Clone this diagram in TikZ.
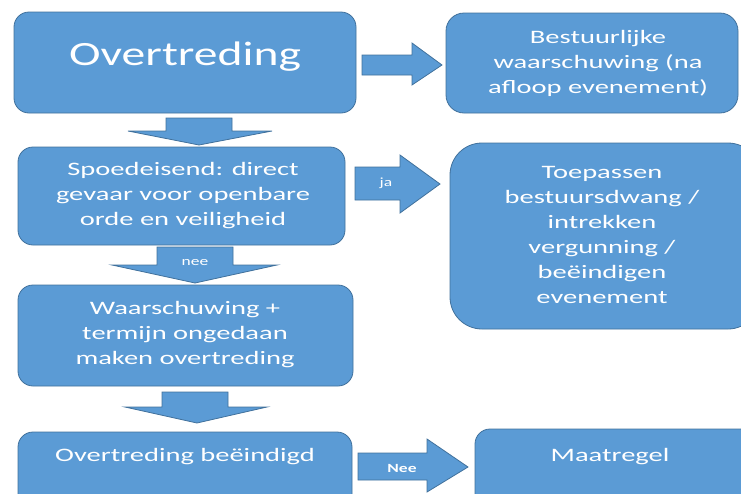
\documentclass[tikz,border=0pt]{standalone}
\usepackage{fontspec}
\setmainfont{Carlito}[FakeStretch=1.4]
\newfontfamily\bodyfont{Carlito}[FakeStretch=1.5]
\definecolor{boxfill}{HTML}{5B9BD5}
\definecolor{boxline}{HTML}{41719C}
\tikzset{
  box/.style={draw=boxline, fill=boxfill, line width=0.8pt, rectangle, inner sep=0pt},
  barrow/.style={draw=boxline, fill=boxfill, line width=0.8pt, line join=miter},
  boxtext/.style={text=white, align=center, inner sep=0pt, font=\bodyfont\fontsize{19}{25}\selectfont},
  arrowtext/.style={text=white, inner sep=0pt, font=\fontsize{12.5}{14}\selectfont},
}
\begin{document}
\begin{tikzpicture}[x=1pt,y=-1pt]
\useasboundingbox (0,0) rectangle (741,493);
\clip (0,0) rectangle (741,493);
% boxes
\node[box, rounded corners=15pt, minimum width=342pt, minimum height=101pt] (b1) at (185,62.5) {};
\node[box, rounded corners=15pt, minimum width=327pt, minimum height=98pt] (b2) at (181.5,196) {};
\node[box, rounded corners=15pt, minimum width=335pt, minimum height=101pt] (b3) at (185.5,335.5) {};
\node[box, rounded corners=15pt, minimum width=334pt, minimum height=90pt] (b4) at (185,477) {};
\node[box, rounded corners=18pt, minimum width=292pt, minimum height=100pt] (r1) at (592,63) {};
\node[box, rounded corners=32pt, minimum width=310pt, minimum height=186pt] (r2) at (605,236) {};
\node[box, rounded corners=15pt, minimum width=285pt, minimum height=90pt] (r3) at (617.5,474) {};
% texts
\node[boxtext, font=\rmfamily\fontsize{34}{40}\selectfont] (t1) at (185,57) {Overtreding};
\node[boxtext] (t2) at (183,196) {Spoedeisend: direct\\gevaar voor openbare\\orde en veiligheid};
\node[boxtext] (t3) at (185,335) {Waarschuwing +\\termijn ongedaan\\maken overtreding};
\node[boxtext] (t4) at (185,457) {Overtreding beëindigd};
\node[boxtext] (tr1) at (598,63) {Bestuurlijke\\waarschuwing (na\\afloop evenement)};
\node[boxtext] (tr2) at (602,234.5) {Toepassen\\bestuursdwang /\\intrekken\\vergunning /\\beëindigen\\evenement};
\node[boxtext] (tr3) at (610,457) {Maatregel};
% block arrows down
\draw[barrow] (166,118) -- (232,118) -- (232,131) -- (272,131) -- (199,145) -- (128,131) -- (166,131) -- cycle;
\draw[barrow] (157,247) -- (233,247) -- (233,265) -- (277,265) -- (195,283) -- (112,265) -- (157,265) -- cycle;
\draw[barrow] (162,392) -- (228,392) -- (228,407) -- (267,407) -- (197,423) -- (125,407) -- (162,407) -- cycle;
% block arrows right
\draw[barrow] (362,55) -- (412,55) -- (412,43) -- (442,65) -- (412,85) -- (412,75) -- (362,75) -- cycle;
\draw[barrow] (355,167) -- (400,167) -- (400,155) -- (440,184) -- (400,213) -- (400,200) -- (355,200) -- cycle;
\draw[barrow] (358,453) -- (427,453) -- (427,439) -- (468,467) -- (427,492) -- (427,480) -- (358,480) -- cycle;
% arrow labels
\node[arrowtext] (lnee) at (195,263) {nee};
\node[arrowtext] (lja) at (386,183) {ja};
\node[arrowtext, font=\bfseries\fontsize{12.5}{14}\selectfont] (lNee) at (402,468) {Nee};
\end{tikzpicture}
\end{document}
